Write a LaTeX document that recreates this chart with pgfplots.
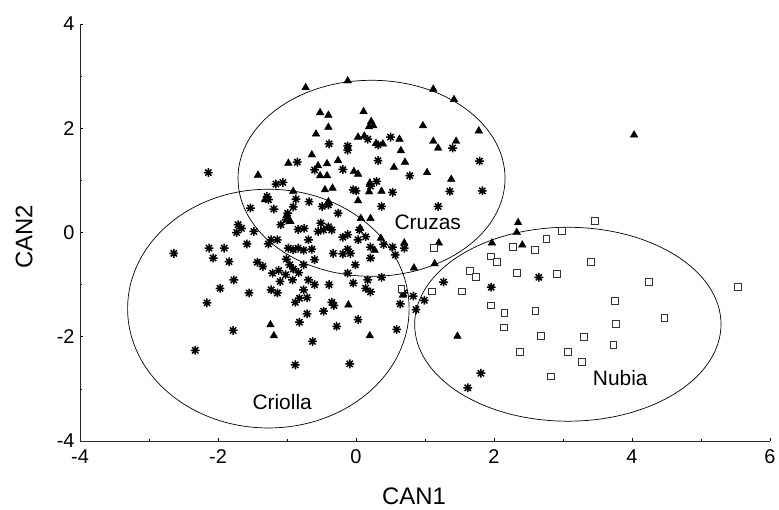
\documentclass[border=0pt]{standalone}
\usepackage{fontspec}
\setmainfont{Liberation Sans}
\usepackage{pgfplots}
\pgfplotsset{compat=1.18}
\pgfdeclareplotmark{ast}{%
  \pgfpathmoveto{\pgfqpoint{0pt}{\pgfplotmarksize}}\pgfpathlineto{\pgfqpoint{0pt}{-\pgfplotmarksize}}%
  \pgfpathmoveto{\pgfqpoint{\pgfplotmarksize}{0pt}}\pgfpathlineto{\pgfqpoint{-\pgfplotmarksize}{0pt}}%
  \pgfpathmoveto{\pgfpointpolar{45}{\pgfplotmarksize}}\pgfpathlineto{\pgfpointpolar{225}{\pgfplotmarksize}}%
  \pgfpathmoveto{\pgfpointpolar{135}{\pgfplotmarksize}}\pgfpathlineto{\pgfpointpolar{315}{\pgfplotmarksize}}%
  \pgfusepathqstroke}
\begin{document}
\begin{tikzpicture}
\path[use as bounding box] (-80bp,-69bp) rectangle (699bp,441bp);
\begin{axis}[
  scale only axis, width=690bp, height=417bp,
  xmin=-4, xmax=6, ymin=-4, ymax=4,
  axis x line=bottom, axis y line=left,
  axis line style={-, line width=0.8bp, black!85},
  xtick={-4,-2,0,2,4,6}, ytick={-4,-2,0,2,4},
  xticklabels={-4,-2,0,2,4,6}, yticklabels={-4,-2,0,2,4},
  minor xtick={-3,-1,1,3,5}, minor ytick={-3,-1,1,3},
  tick align=inside, major tick length=3bp, minor tick length=2.5bp,
  every tick/.style={black, line width=0.6bp},
  tick label style={font=\fontsize{20}{20}\selectfont},
  yticklabel style={xshift=-2bp},
  xticklabel style={yshift=-5bp},
  xlabel={CAN1}, ylabel={CAN2},
  xlabel style={font=\fontsize{24}{24}\selectfont, at={(axis description cs:0.484,-0.132)}, anchor=center},
  ylabel style={font=\fontsize{24}{24}\selectfont, at={(axis description cs:-0.081,0.489)}, anchor=center, rotate=0},
  clip=false,
]
\draw[line width=0.7bp] (axis cs:0.225,1.04) ellipse [x radius=1.935, y radius=1.88];
\draw[line width=0.7bp] (axis cs:-1.27,-1.46) ellipse [x radius=2.04, y radius=2.29];
\draw[line width=0.7bp] (axis cs:3.07,-1.76) ellipse [x radius=2.22, y radius=1.86];

% Criolla (asterisks)
\addplot[only marks, mark=ast, mark size=4.4bp, line width=1.5bp, black] coordinates {
(-2.14,1.15) (-0.85,1.35) (-0.60,1.20) (-0.39,1.70) (-0.12,1.66) (-0.12,1.58) (0.17,1.79)
(0.32,1.68) (0.50,1.83) (1.40,1.62) (1.79,1.37) (-0.19,1.21) (0.32,1.38) (0.30,0.98)
(0.21,0.89) (-0.04,0.82) (0.0,0.80) (0.53,0.77) (0.78,1.09) (1.36,0.79) (1.83,0.80)
(0.37,0.50) (0.05,0.05) (-1.16,0.93) (-1.06,0.96) (-1.29,0.69) (-1.27,0.63) (-1.19,0.45)
(-1.53,0.47) (-0.91,0.49) (-0.87,0.64) (-0.68,0.59) (-0.49,0.50) (-0.40,0.53) (-0.26,0.37)
(-0.99,0.37) (-1.01,0.24) (-1.09,0.15) (-0.84,0.06) (-0.75,0.08) (-0.51,0.18) (-0.40,0.11)
(-0.47,0.05) (-0.35,0.05) (-0.55,0.02) (-1.71,0.15) (-1.66,0.08) (-1.73,0.00) (-1.48,0.02)
(-1.58,-0.22) (-1.23,-0.14) (-1.14,-0.14) (-1.27,-0.22) (-0.98,-0.30) (-0.91,-0.33) (-0.84,-0.30)
(-0.76,-0.34) (-0.69,-0.14) (-0.64,-0.32) (-0.19,-0.09) (-0.12,-0.04) (0.14,-0.08) (0.03,-0.14)
(0.21,-0.28) (0.21,-0.49) (-0.12,-0.32) (-0.08,-0.40) (-0.19,-0.41) (-0.33,-0.40) (-0.60,-0.52)
(-0.76,-0.62) (-0.83,-0.77) (-0.92,-0.91) (-0.69,-0.91) (-0.60,-1.00) (-0.76,-1.10) (-0.82,-1.26)
(-0.71,-1.25) (-0.88,-1.34) (-0.35,-1.34) (-0.32,-1.40) (-0.47,-1.51) (-0.71,-1.56) (-0.82,-1.72)
(-0.28,-1.80) (-0.63,-2.09) (-0.88,-2.54) (-0.09,-2.52) (0.03,-1.67) (0.59,-1.86) (0.64,-1.37)
(0.69,-1.16) (0.83,-1.22) (0.99,-1.30) (0.87,-1.48) (1.27,-0.95) (1.96,-1.05) (1.81,-2.70)
(1.62,-2.98) (2.65,-0.86) (-0.04,-0.97) (0.17,-0.91) (0.37,-0.86) (0.14,-1.07) (0.21,-1.14)
(-0.01,-0.62) (-0.12,-0.78) (0.57,-0.43) (0.53,-0.28) (-0.39,-1.00) (-1.12,-0.73) (-2.64,-0.40)
(-2.13,-0.30) (-1.91,-0.30) (-2.07,-0.49) (-1.84,-0.56) (-1.43,-0.57) (-1.35,-0.65) (-1.77,-0.91)
(-1.97,-1.07) (-1.55,-1.16) (-2.16,-1.35) (-2.33,-2.26) (-1.78,-1.88) (-1.21,-0.78) (-1.23,-1.10)
(-1.14,-1.16) (-1.10,-0.94) (-1.02,-0.81) (-0.91,-0.70) (-0.96,-0.62) (-1.01,-0.51) (0.40,-0.23)
(0.70,-0.30) (1.19,0.50)
};

% Cruzas (triangles)
\addplot[only marks, mark=triangle*, mark size=4.4bp, black] coordinates {
(-0.73,2.78) (-0.12,2.91) (1.12,2.75) (1.42,2.55) (-0.52,2.30) (-0.40,2.25) (0.11,2.32)
(0.22,2.13) (0.19,2.03) (0.25,2.05) (-0.40,2.02) (-0.58,1.89) (0.97,2.05) (1.78,1.95)
(4.03,1.87) (0.03,1.83) (0.12,1.85) (0.29,1.71) (0.39,1.70) (0.63,1.79) (0.65,1.57)
(1.12,1.75) (1.19,1.62) (1.45,1.75) (-0.64,1.49) (-0.98,1.33) (-0.42,1.32) (-0.26,1.38)
(0.71,1.35) (0.55,1.25) (-1.42,1.10) (-0.55,1.28) (-0.52,1.09) (-0.42,1.09) (-0.03,1.17)
(0.03,1.12) (1.03,1.15) (1.38,1.02) (0.20,0.95) (-0.45,0.82) (-0.34,0.85) (0.37,0.79)
(0.19,0.78) (-0.91,0.79) (-1.32,0.63) (-0.40,0.59) (0.03,0.61) (0.07,0.27) (0.21,0.27)
(0.06,0.08) (-1.01,0.32) (-0.95,0.21) (0.36,-0.11) (0.70,-0.20) (0.27,-0.34) (1.20,-0.20)
(1.14,-0.60) (0.84,-0.68) (2.35,0.19) (2.33,0.00) (2.41,-0.24) (1.97,-0.20) (-0.11,-1.39)
(-1.24,-1.77) (-1.19,-1.98) (0.20,-1.98) (1.47,-1.99) (0.68,-1.20)
};

% Nubia (squares)
\addplot[only marks, mark=square*, mark size=3.4bp, line width=0.9bp, draw=black!80, fill=white] coordinates {
(3.46,0.22) (2.98,0.03) (2.76,-0.12) (2.28,-0.28) (2.59,-0.33) (1.13,-0.30) (1.96,-0.46)
(2.04,-0.57) (3.40,-0.57) (1.65,-0.73) (1.74,-0.86) (2.33,-0.78) (2.91,-0.80) (4.24,-0.95)
(5.54,-1.05) (0.66,-1.09) (1.10,-1.13) (1.54,-1.13) (3.75,-1.32) (1.95,-1.40) (2.15,-1.55)
(2.60,-1.51) (4.47,-1.64) (3.77,-1.75) (2.14,-1.82) (2.68,-1.99) (3.30,-2.01) (3.73,-2.16)
(2.38,-2.29) (3.07,-2.29) (3.27,-2.49) (2.83,-2.76)
};

\node[font=\fontsize{21}{21}\selectfont] at (axis cs:1.04,0.20) {Cruzas};
\node[font=\fontsize{21}{21}\selectfont] at (axis cs:-1.07,-3.25) {Criolla};
\node[font=\fontsize{21}{21}\selectfont] at (axis cs:3.83,-2.79) {Nubia};
\end{axis}
\end{tikzpicture}
\end{document}
